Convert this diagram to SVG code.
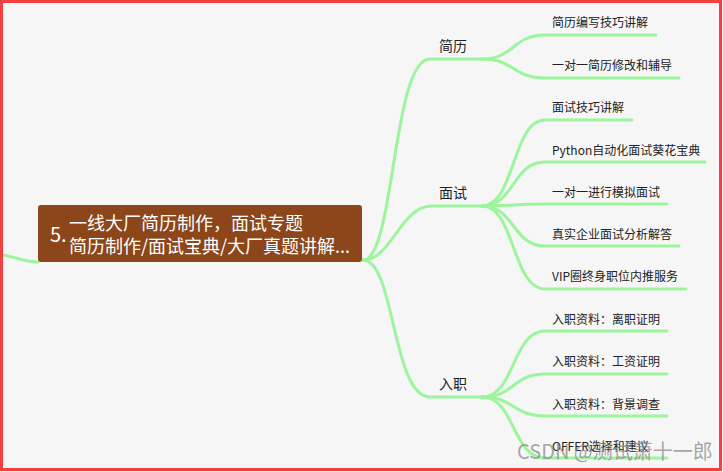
<svg xmlns="http://www.w3.org/2000/svg" width="723" height="472" viewBox="0 0 723 472">
<style>
.ln{fill:none;stroke:#9cf59c;stroke-width:3;stroke-linecap:round}
.leaf{font-family:"Noto Sans CJK SC","Noto Sans",sans-serif;font-size:12px;fill:#222}
.br{font-family:"Noto Sans CJK SC","Noto Sans",sans-serif;font-size:14px;fill:#222}
.main{font-family:"Noto Sans CJK SC","Noto Sans",sans-serif;fill:#fff}
</style>
<rect x="0" y="0" width="723" height="472" fill="#f6f6f6"/>
<g id="connectors">
<path class="ln" d="M-5,254 C15,256 25,262 38,262"/>
<path class="ln" d="M363,260 C395,260 392,59 430,59 L482,59"/>
<path class="ln" d="M363,260 C392,260 400,206 432,206 L482,206"/>
<path class="ln" d="M363,260 C395,260 392,397 430,397 L482,397"/>
<path class="ln" d="M482,59 C515,59 512,35 545,35 L656,35"/>
<path class="ln" d="M482,59 C515,59 512,78 545,78 L679,78"/>
<path class="ln" d="M482,206 C515,206 512,120 545,120 L632,120"/>
<path class="ln" d="M482,206 C515,206 512,162 545,162 L705,162"/>
<path class="ln" d="M482,206 C515,206 512,204 545,204 L667,204"/>
<path class="ln" d="M482,206 C515,206 512,246 545,246 L679,246"/>
<path class="ln" d="M482,206 C515,206 512,289 545,289 L686,289"/>
<path class="ln" d="M482,397 C515,397 512,331 545,331 L667,331"/>
<path class="ln" d="M482,397 C515,397 512,374 545,374 L667,374"/>
<path class="ln" d="M482,397 C515,397 512,416 545,416 L667,416"/>
<path class="ln" d="M482,397 C515,397 512,458 545,458 L667,458"/>
</g>
<g id="main">
<rect x="38" y="205" width="324" height="57" rx="3" fill="#8c4619"/>
<text class="main" x="50" y="242" font-size="20">5.</text>
<text class="main" x="69" y="230" font-size="18">一线大厂简历制作，面试专题</text>
<text class="main" x="69" y="253" font-size="18">简历制作/面试宝典/大厂真题讲解...</text>
</g>
<g id="b-jianli"><text class="br" x="439" y="51">简历</text></g>
<g id="b-mianshi"><text class="br" x="439" y="198">面试</text></g>
<g id="b-ruzhi"><text class="br" x="439" y="389">入职</text></g>
<g id="l1"><text class="leaf" x="552" y="27">简历编写技巧讲解</text></g>
<g id="l2"><text class="leaf" x="552" y="70">一对一简历修改和辅导</text></g>
<g id="l3"><text class="leaf" x="552" y="112">面试技巧讲解</text></g>
<g id="l4"><text class="leaf" x="552" y="155">Python自动化面试葵花宝典</text></g>
<g id="l5"><text class="leaf" x="552" y="197">一对一进行模拟面试</text></g>
<g id="l6"><text class="leaf" x="552" y="239">真实企业面试分析解答</text></g>
<g id="l7"><text class="leaf" x="552" y="281">VIP圈终身职位内推服务</text></g>
<g id="l8"><text class="leaf" x="552" y="324">入职资料：离职证明</text></g>
<g id="l9"><text class="leaf" x="552" y="366">入职资料：工资证明</text></g>
<g id="l10"><text class="leaf" x="552" y="409">入职资料：背景调查</text></g>
<g id="l11"><text class="leaf" x="552" y="451">OFFER选择和建议</text></g>
<text x="517" y="459" font-family="Noto Sans CJK SC,Noto Sans,sans-serif" font-size="20" fill="#8a8a8a" fill-opacity="0.75">CSDN @测试萧十一郎</text>
<rect x="1.5" y="1.5" width="719" height="468" fill="none" stroke="#f43f3f" stroke-width="3"/>
</svg>
